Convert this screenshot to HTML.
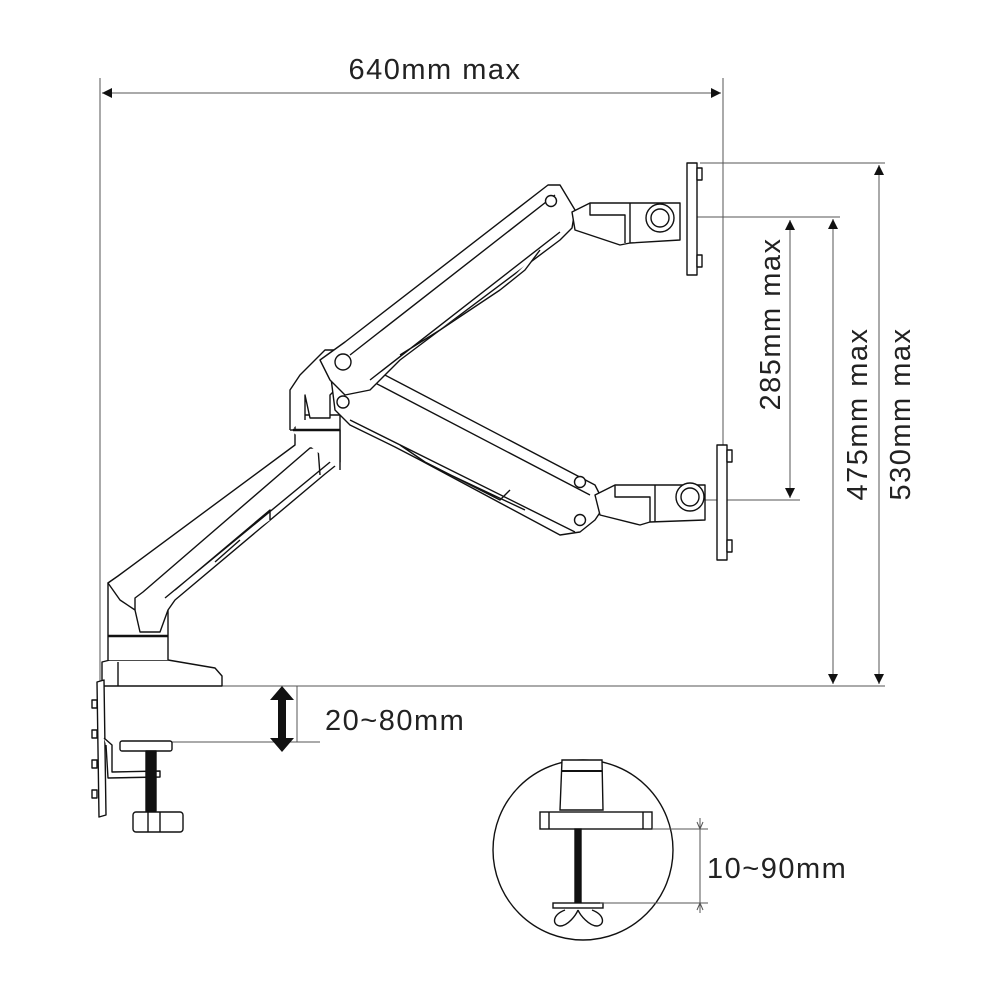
<!DOCTYPE html>
<html><head><meta charset="utf-8"><style>
html,body{margin:0;padding:0;background:#fff}
svg{display:block}
text{font-family:"Liberation Sans",sans-serif;fill:#222;letter-spacing:1.5px}
</style></head><body>
<svg width="1000" height="1000" viewBox="0 0 1000 1000" xmlns="http://www.w3.org/2000/svg">
<defs>
<marker id="a" viewBox="0 0 10 10" refX="10" refY="5" markerWidth="18" markerHeight="10" orient="auto-start-reverse" markerUnits="userSpaceOnUse"><path d="M0,0 L10,5 L0,10 z" fill="#111"/></marker>
</defs>
<g stroke="#555" stroke-width="1" fill="none">
<line x1="100" y1="78" x2="100" y2="690"/>
<line x1="723" y1="78" x2="723" y2="445"/>
<line x1="102" y1="93" x2="721" y2="93" marker-start="url(#a)" marker-end="url(#a)"/>
<line x1="700" y1="163" x2="885" y2="163"/>
<line x1="697" y1="217" x2="840" y2="217"/>
<line x1="705" y1="500" x2="800" y2="500"/>
<line x1="100" y1="686" x2="885" y2="686"/>
<line x1="790" y1="220" x2="790" y2="498" marker-start="url(#a)" marker-end="url(#a)"/>
<line x1="833" y1="219" x2="833" y2="684" marker-start="url(#a)" marker-end="url(#a)"/>
<line x1="879" y1="165" x2="879" y2="684" marker-start="url(#a)" marker-end="url(#a)"/>
<line x1="172" y1="742" x2="320" y2="742"/>
<line x1="297" y1="686" x2="297" y2="742"/>
</g>
<text x="435" y="79" font-size="29" text-anchor="middle">640mm  max</text>
<text transform="translate(780,324) rotate(-90)" font-size="29" text-anchor="middle">285mm max</text>
<text transform="translate(867,414) rotate(-90)" font-size="29" text-anchor="middle">475mm max</text>
<text transform="translate(910,414) rotate(-90)" font-size="29" text-anchor="middle">530mm max</text>
<text x="325" y="730" font-size="29">20~80mm</text>
<path d="M282,686 L294,700 L286,700 L286,738 L294,738 L282,752 L270,738 L278,738 L278,700 L270,700 z" fill="#111"/>

<g stroke="#111" stroke-width="1.4" fill="#fff" stroke-linejoin="round">
<path d="M102,686 L102,662 L110,660 L168,660 L215,668 L222,676 L222,686 z"/>
<line x1="118" y1="662" x2="118" y2="686"/>
<path d="M108,660 L108,583 L120,575 L168,610 L168,660"/>
<line x1="108" y1="636" x2="168" y2="636" stroke-width="2.5"/>
<path d="M108,583 L118,576 L295,445 L295,415 L340,415 L340,462 L325,474 L175,600 L168,610 L160,632 L140,632 L135,610 L120,600 Z"/>
<path d="M135,610 L135,598 L143,592 L310,448 L318,448 L320,475"/>
<path d="M165,598 L335,458 M175,590 L270,510 L270,520 M215,562 L240,540"/>
<path d="M290,430 L340,430 L340,470" />
<line x1="293" y1="430" x2="340" y2="430" stroke-width="2.5"/>
<path d="M290,430 L290,390 L300,375 L325,350 L345,350 L345,380 L330,395 L330,418 L310,418 L305,395 L305,420"/>
<path d="M330,370 L345,362 L360,362 L595,485 L605,505 L595,520 L580,532 L560,535 L420,460 L395,447 L350,425 L335,410 Z"/>
<path d="M360,375 L590,495 M350,420 L575,532 M400,445 L425,462 L500,500 L510,490 M440,470 L525,510"/>
<circle cx="580" cy="482" r="5.5"/>
<circle cx="580" cy="520" r="5.5"/>
<path d="M320,360 L345,342 L548,185 L560,185 L575,210 L572,228 L560,240 L400,360 L370,390 L345,395 L330,380 Z"/>
<path d="M350,355 L555,195 M370,380 L560,232 M500,290 L525,270 L540,250 M400,355 L440,330 L500,290"/>
<circle cx="551" cy="201" r="5.5"/>
<circle cx="343" cy="362" r="8"/>
<circle cx="343" cy="402" r="6"/>
<path d="M572,212 L590,203 L680,203 L680,240 L630,243 L620,245 L575,230 Z"/>
<path d="M590,203 L590,215 L625,215 L625,243 M630,203 L630,243"/>
<circle cx="660" cy="218" r="14"/>
<circle cx="660" cy="218" r="9"/>
<rect x="687" y="163" width="10" height="112"/>
<rect x="697" y="168" width="5" height="12"/><rect x="697" y="255" width="5" height="12"/>
<path d="M595,495 L615,485 L705,485 L705,520 L650,522 L640,525 L600,515 Z"/>
<path d="M615,485 L615,497 L650,497 L650,522 M655,485 L655,522"/>
<circle cx="690" cy="497" r="14"/>
<circle cx="690" cy="497" r="9"/>
<rect x="717" y="445" width="10" height="115"/>
<rect x="727" y="450" width="5" height="12"/><rect x="727" y="540" width="5" height="12"/>
<path d="M97,682 L104,680 L106,815 L99,817 Z"/>
<path d="M92,700 h5 v8 h-5z M92,730 h5 v8 h-5z M92,760 h5 v8 h-5z M92,790 h5 v8 h-5z"/>
<path d="M104,738 L112,745 L112,772 L160,771 L160,777 L108,778 L106,745"/>
<rect x="120" y="741" width="52" height="10" rx="2"/>
<rect x="146" y="751" width="10" height="60" fill="#111"/>
<rect x="133" y="812" width="50" height="20" rx="3"/>
<line x1="148" y1="812" x2="148" y2="832"/><line x1="160" y1="812" x2="160" y2="832"/>
</g>
<g stroke="#111" stroke-width="1.4" fill="#fff">
<circle cx="583" cy="850" r="90" fill="none"/>
<path d="M562,760 L602,760 L603,810 L560,810 Z"/>
<line x1="562" y1="771" x2="602" y2="771" stroke-width="2"/>
<rect x="540" y="812" width="112" height="17"/>
<line x1="549" y1="812" x2="549" y2="829"/><line x1="643" y1="812" x2="643" y2="829"/>
<rect x="575" y="829" width="6" height="74" fill="#111"/>
<rect x="553" y="903" width="50" height="5"/>
<path d="M565,910 C552,915 552,925 560,926 C568,926 576,915 578,910 M592,910 C605,915 605,925 597,926 C589,926 580,915 578,910"/>
</g>
<g stroke="#555" stroke-width="1" fill="none">
<line x1="652" y1="829" x2="708" y2="829"/>
<line x1="600" y1="903" x2="708" y2="903"/>
<line x1="700" y1="818" x2="700" y2="913"/>
<path d="M697,822 L700,829 L703,822 M697,910 L700,903 L703,910"/>
</g>
<text x="707" y="878" font-size="29">10~90mm</text>
</svg>
</body></html>
